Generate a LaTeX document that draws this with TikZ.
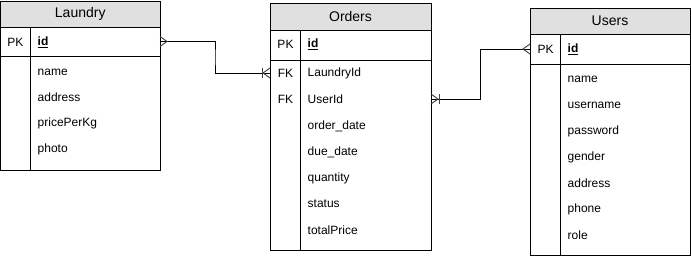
\documentclass[tikz,border=0pt]{standalone}
\usepackage{fontspec}
\setmainfont{Liberation Sans}
\usetikzlibrary{calc}
\definecolor{headfill}{HTML}{E0E0E0}
\tikzset{
  frame/.style={draw=black, line width=1pt, inner sep=0pt, outer sep=0pt},
  head/.style={frame, fill=headfill, font=\fontsize{14}{16}\selectfont},
  field/.style={inner sep=0pt, outer sep=0pt, minimum height=26pt},
  keytag/.style={inner sep=0pt, anchor=center, font=\fontsize{12}{14}\selectfont},
  attr/.style={inner sep=0pt, anchor=west, font=\fontsize{12}{14}\selectfont},
  link/.style={draw=black, line width=1pt},
  foot/.style={draw=black!75, line width=0.9pt},
  crow/.pic={\draw[foot] (0,-5) -- (7,0) -- (0,5);},
  onemany/.pic={\draw[foot] (0,-5) -- (7,0) -- (0,5); \draw[foot] (8,-5) -- (8,5);}
}
\newcommand{\pkname}[1]{\underline{\textbf{#1}}}
\begin{document}
\begin{tikzpicture}[x=1pt,y=-1pt]
\useasboundingbox (0,0) rectangle (691,257);
\fill[white] (0,0) rectangle (691,257);

% ---------- Laundry ----------
\node[frame, minimum width=159.5pt, minimum height=169pt] (laundry) at (80.25,85.5) {};
\node[head, minimum width=159.5pt, minimum height=26pt] (laundry-title) at (80.25,14) {Laundry};
\node[field, minimum width=159.5pt, minimum height=29pt] (laundry-pk) at (80.25,41.5) {};
\draw[link] (0.5,56) -- (160,56);
\draw[link] (30.5,27) -- (30.5,170);
\node[keytag] (laundry-pk-tag) at (15.5,42) {PK};
\node[attr] (laundry-id) at (37.5,42) {\pkname{id}};
\node[attr] (laundry-name) at (37.5,72) {name};
\node[attr] (laundry-address) at (37.5,97.5) {address};
\node[attr] (laundry-price) at (37.5,123) {pricePerKg};
\node[attr] (laundry-photo) at (37.5,149) {photo};

% ---------- Orders ----------
\node[frame, minimum width=161pt, minimum height=247pt] (orders) at (350.5,126.5) {};
\node[head, minimum width=161pt, minimum height=27pt] (orders-title) at (350.5,16.5) {Orders};
\node[field, minimum width=161pt, minimum height=30pt] (orders-pk) at (350.5,45) {};
\draw[link] (270,60) -- (431,60);
\draw[link] (300.5,30) -- (300.5,250);
\node[field, minimum width=161pt] (orders-lid) at (350.5,73) {};
\node[field, minimum width=161pt] (orders-uid) at (350.5,99) {};
\node[keytag] (orders-pk-tag) at (285.5,44) {PK};
\node[keytag] (orders-fk1-tag) at (285.5,73) {FK};
\node[keytag] (orders-fk2-tag) at (285.5,99) {FK};
\node[attr] (orders-id) at (307.5,44) {\pkname{id}};
\node[attr] (orders-laundryid) at (307.5,73) {LaundryId};
\node[attr] (orders-userid) at (307.5,99) {UserId};
\node[attr] (orders-orderdate) at (307.5,126) {order\_date};
\node[attr] (orders-duedate) at (307.5,152) {due\_date};
\node[attr] (orders-quantity) at (307.5,178) {quantity};
\node[attr] (orders-status) at (307.5,204) {status};
\node[attr] (orders-total) at (307.5,230) {totalPrice};

% ---------- Users ----------
\node[frame, minimum width=160pt, minimum height=247pt] (users) at (610,131.5) {};
\node[head, minimum width=160pt, minimum height=26pt] (users-title) at (610,21) {Users};
\node[field, minimum width=160pt, minimum height=30pt] (users-pk) at (610,49) {};
\draw[link] (530,64) -- (690,64);
\draw[link] (560.5,34) -- (560.5,255);
\node[keytag] (users-pk-tag) at (545.5,49) {PK};
\node[attr] (users-id) at (567.5,49) {\pkname{id}};
\node[attr] (users-name) at (567.5,79) {name};
\node[attr] (users-username) at (567.5,105) {username};
\node[attr] (users-password) at (567.5,131) {password};
\node[attr] (users-gender) at (567.5,157) {gender};
\node[attr] (users-address) at (567.5,183) {address};
\node[attr] (users-phone) at (567.5,209) {phone};
\node[attr] (users-role) at (567.5,235) {role};

% ---------- relationships ----------
\draw[link] (laundry-pk.east) -| ($(laundry-pk.east)!0.5!(orders-lid.west)$) |- (orders-lid.west);
\draw[link] (orders-uid.east) -| ($(orders-uid.east)!0.5!(users-pk.west)$) |- (users-pk.west);
\pic at (laundry-pk.east) {crow};
\pic[xscale=-1] at (orders-lid.west) {onemany};
\pic at (orders-uid.east) {onemany};
\pic[xscale=-1] at (users-pk.west) {crow};
\end{tikzpicture}
\end{document}
